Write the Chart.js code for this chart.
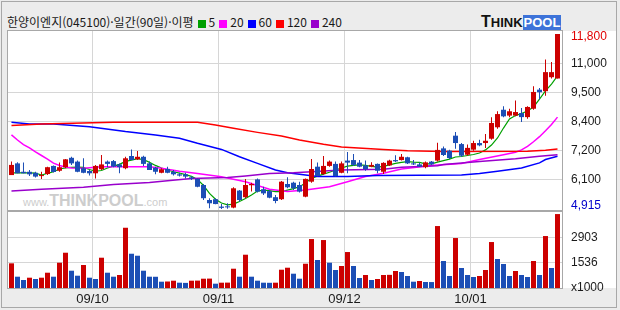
<!DOCTYPE html>
<html lang="ko">
<head>
<meta charset="utf-8">
<title>한양이엔지 일간 차트</title>
<script src="https://cdn.jsdelivr.net/npm/chart.js@4.4.1/dist/chart.umd.min.js"></script>
<style>
  html, body { margin: 0; padding: 0; background: #ececec; }
  #wrap { position: relative; width: 620px; height: 310px; background: #ececec; overflow: hidden; }
  #frame { position: absolute; left: 1px; top: 1px; width: 614px; height: 305px; border: 1px solid #a8a8a8; }
  #sheet { position: absolute; left: 8px; top: 31px; width: 608px; height: 257px; background: #fff; }
  .box { position: absolute; border: 1px solid #a8a8a8; z-index: 3; }
  #priceBox { left: 7px; top: 30px; width: 554px; height: 179px; }
  #volBox { left: 7px; top: 211px; width: 554px; height: 76px; }
  canvas { position: absolute; left: 0; top: 0; z-index: 2; }
  #mark { position: absolute; left: 23px; top: 192px; z-index: 1; white-space: nowrap;
          font-family: "Liberation Sans", sans-serif; color: #cdcdcd; line-height: 18px; }
  #mark .w { font-size: 11px; }
  #mark .t { font-size: 16px; font-weight: bold; }
  #title { position: absolute; left: 7px; top: 13px; height: 18px; line-height: 18px; white-space: nowrap;
           font: 12px "Noto Sans CJK KR", sans-serif; color: #1a1a1a; }
  #title .sq { display: inline-block; width: 8px; height: 8px; margin: 0 3px 0 4px; vertical-align: -1px; }
  #logo { position: absolute; left: 481px; top: 14px; height: 15px; line-height: 15px; white-space: nowrap;
          font-family: "Liberation Sans", sans-serif; font-weight: bold; }
  #logo .think { color: #111; font-size: 13px; }
  #logo .think b { font-size: 16px; }
  #logo .pool { color: #fff; background: #3d73d9; font-size: 13px; padding: 0 1px; }
</style>
</head>
<body>
<div id="wrap">
  <div id="frame"></div>
  <div id="sheet"></div>
  <div id="mark"><span class="w">www.</span><span class="t">THINKPOOL</span><span class="w">.com</span></div>
  <canvas id="priceChart" width="620" height="228"></canvas>
  <canvas id="volChart" width="620" height="310"></canvas>
  <div class="box" id="priceBox"></div>
  <div class="box" id="volBox"></div>
  <div id="title">한양이엔지(045100)·일간(90일)·이평<i class="sq" style="background:#00a000"></i>5<i class="sq" style="background:#ff00ff"></i>20<i class="sq" style="background:#0000ff"></i>60<i class="sq" style="background:#ff0000"></i>120<i class="sq" style="background:#9900cc"></i>240</div>
  <div id="logo"><span class="think"><b>T</b>HINK</span><span class="pool">POOL</span></div>
</div>
<script>
/* ── data (daily candles, index 0 = oldest) ── */
const monthStarts = [14, 35, 56, 77];
const monthLabels = ["09/10", "09/11", "09/12", "10/01"];

const opens = [6250,6710,6380,6380,6340,6210,6290,6610,6420,6560,
  6930,6780,6520,6410,6320,6480,6780,6800,6670,6520,
  7000,6870,6970,6710,6540,6340,6490,6380,6280,6280,
  6160,6100,5860,5270,5300,5010,5010,4970,5640,5380,
  5850,6080,5690,5620,5380,5300,5900,5950,5860,5400,
  5990,6580,6290,6610,6690,6340,6820,6840,6740,6630,
  6580,6690,6380,6630,6840,6840,6950,6710,6670,6560,
  6780,6820,7300,7210,7800,7470,7050,7250,7510,7510,
  7680,8130,8820,8590,8590,8690,8530,8860,9610,9550,
  10100,10050];
const highs = [6780,6750,6740,6450,6380,6380,6580,6630,6740,6880,
  6970,6820,6910,6450,6650,7040,6820,6840,6710,6970,
  7260,7200,7010,6780,6580,6520,6580,6450,6340,6340,
  6210,6120,5900,5340,5340,5110,5140,5770,5660,6100,
  5950,6120,5790,5660,5470,6020,6160,5990,5990,6120,
  6880,6740,7000,6820,6780,6780,7160,7080,6840,6820,
  6750,6710,6750,6850,7030,7080,6970,6840,6740,6780,
  6800,7520,7370,7250,7940,7510,7450,7600,7640,7870,
  8520,8760,8960,8860,9180,8890,8960,9740,9680,10800,
  10700,11800];
const lows = [6250,6320,6320,6210,6150,6100,6250,6350,6380,6520,
  6650,6360,6320,6230,6120,6450,6560,6560,6320,6480,
  6840,6840,6610,6450,6280,6320,6320,6230,6190,6120,
  6060,5770,5270,4940,5100,4915,4930,4940,5200,5340,
  5600,5560,5470,5340,5140,5270,5730,5660,5560,5380,
  5950,6190,6260,6580,6190,6320,6320,6610,6560,6420,
  6560,6320,6290,6610,6760,6820,6690,6650,6570,6520,
  6650,6780,7000,6880,7290,6960,7010,7210,7380,7320,
  7640,8070,8520,8520,8560,8340,8470,8820,9220,9370,
  10050,10050];
const closes = [6650,6320,6320,6280,6190,6250,6560,6370,6560,6870,
  6710,6380,6340,6320,6610,6670,6690,6580,6560,6910,
  6840,6970,6690,6450,6380,6480,6340,6280,6230,6190,
  6110,5790,5340,5140,5110,4960,4980,5730,5270,5860,
  5900,5600,5530,5360,5230,5990,5770,5730,5600,6100,
  6490,6210,6610,6780,6210,6710,6740,6650,6580,6480,
  6650,6420,6730,6820,6790,6970,6710,6670,6580,6750,
  6670,7240,7040,6920,7510,7010,7320,7510,7420,7600,
  8300,8650,8560,8760,8730,8530,8930,9520,9510,10300,
  10300,11800];
// 거래량 (천주)
const volumes = [1481,749,568,694,623,694,967,749,1514,2061,
  1077,803,1388,694,623,1788,967,749,842,3428,
  2006,1897,1077,749,745,475,486,530,421,410,
  530,535,639,645,366,421,425,1186,749,1952,
  749,530,421,415,421,1131,1241,913,639,1459,
  2810,1662,2755,1514,1115,1334,2099,1334,678,842,
  568,623,842,850,1060,1006,787,475,513,459,
  455,3521,1607,787,2865,1224,842,732,787,1115,
  2646,1716,1443,787,1060,842,732,1607,842,2974,
  1224,4177];

// moving averages
const ma5 = [6340,6340,6340,6335,6330,6250,6320,6380,6490,6530,
  6550,6560,6550,6470,6400,6430,6530,6600,6670,6790,
  6840,6900,6860,6750,6630,6530,6450,6380,6330,6270,
  6200,6080,5840,5530,5300,5150,5080,5110,5210,5330,
  5470,5620,5660,5640,5600,5600,5660,5720,5790,5940,
  6120,6210,6290,6360,6450,6530,6600,6630,6650,6630,
  6590,6560,6590,6650,6710,6750,6780,6760,6750,6690,
  6690,6760,6820,6880,6960,6980,7020,7060,7120,7240,
  7430,7710,8100,8460,8590,8670,8770,8930,9240,9560,
  9830,10150];
const ma20 = [[0,7830],[1,7630],[2,7450],[3,7320],[4,7160],[5,7020],[6,6880],[7,6720],[8,6630],
  [9,6570],[10,6530],[12,6520],[15,6580],[23,6580],[25,6520],[28,6400],[31,6310],[35,6180],
  [39,5990],[43,5690],[46,5600],[49,5660],[53,5790],[56,5990],[59,6190],[62,6320],[65,6490],
  [70,6630],[75,6710],[78,6860],[82,7050],[84,7150],[85,7240],[86,7380],[87,7560],[88,7760],
  [89,7990],[90,8240],[91,8530]];
const ma60 = [[0,8330],[3,8260],[7,8260],[13,8150],[19,7960],[24,7830],[28,7700],[31,7500],
  [35,7260],[38,6970],[41,6710],[44,6450],[46,6340],[49,6250],[51,6190],[56,6190],[61,6230],
  [75,6250],[78,6310],[81,6400],[85,6530],[88,6730],[89,6860],[91,6990]];
const ma120 = [[0,8200],[5,8260],[17,8330],[31,8330],[34,8220],[37,8090],[41,7930],[45,7790],
  [48,7630],[52,7460],[55,7350],[62,7260],[66,7210],[72,7180],[86,7190],[89,7230],[91,7280]];
const ma240 = [[0,5620],[5,5690],[12,5770],[17,5880],[23,5960],[26,6030],[30,6120],[36,6150],
  [39,6210],[43,6310],[47,6340],[50,6380],[55,6450],[62,6480],[65,6560],[71,6620],[72,6670],
  [78,6780],[84,6890],[88,6990],[91,7050]];

const priceGrid = [6060, 7200, 8355, 9495, 10640];
const volGrid = [1536, 2903];

/* ── look ── */
const UP = "#cc0000";
const DOWN = "#1c4eb5";
const GRID = "#d6d6d6";
const AXIS_FONT = { family: "'Liberation Sans', Arial, sans-serif", size: 12 };
const X_MIN = -0.58, X_MAX = 91.75;
const PRICE_MIN = 4876, PRICE_MAX = 11918;
const VOL_MIN = 130, VOL_MAX = 4290;

Chart.defaults.font.family = AXIS_FONT.family;
Chart.defaults.font.size = 12;
Chart.defaults.color = "#1a1a1a";

const candleColors = closes.map((c, i) => (c >= opens[i] ? UP : DOWN));
const volColors = volumes.map((v, i) => (i === 0 || v >= volumes[i - 1] ? UP : DOWN));

function monthAxis(showLabels) {
  return {
    type: "linear",
    min: X_MIN,
    max: X_MAX,
    offset: false,
    afterBuildTicks: (s) => { s.ticks = monthStarts.map((i) => ({ value: i - 0.5 })); },
    afterFit: (s) => { s.height = showLabels ? 22 : 0; },
    grid: { color: GRID, drawTicks: false, offset: false },
    border: { display: false },
    ticks: {
      display: showLabels,
      autoSkip: false,
      maxRotation: 0,
      padding: 4,
      font: { size: 13 },
      callback: (v, i) => monthLabels[i],
    },
  };
}

function maLine(label, color, points, width) {
  return {
    type: "line",
    label,
    data: points,
    borderColor: color,
    borderWidth: width,
    pointRadius: 0,
    tension: 0,
    order: 2,
  };
}

/* min / max price marks on the right axis */
const extremeLabels = {
  id: "extremeLabels",
  afterDraw(chart) {
    const { ctx, chartArea } = chart;
    const y = chart.scales.y;
    const hi = Math.max(...highs);
    const lo = Math.min(...lows);
    ctx.save();
    ctx.font = "12px 'Liberation Sans', Arial, sans-serif";
    ctx.textAlign = "left";
    ctx.textBaseline = "middle";
    ctx.fillStyle = "#e00000";
    ctx.fillText(hi.toLocaleString("en-US"), chartArea.right + 9,
      Math.max(y.getPixelForValue(hi), chartArea.top + 6));
    ctx.fillStyle = "#0000cc";
    ctx.fillText(lo.toLocaleString("en-US"), chartArea.right + 9,
      Math.min(y.getPixelForValue(lo), chartArea.bottom - 4));
    ctx.restore();
  },
};

const common = {
  responsive: false,
  animation: false,
  devicePixelRatio: 1,
  events: [],
  plugins: { legend: { display: false }, tooltip: { enabled: false } },
};

/* price panel (canvas runs past the panel so the axis label padding fits) */
new Chart(document.getElementById("priceChart"), {
  type: "bar",
  data: {
    datasets: [
      maLine("240", "#9900cc", ma240.map(([x, y]) => ({ x, y })), 1.5),
      maLine("120", "#ff0000", ma120.map(([x, y]) => ({ x, y })), 1.5),
      maLine("60", "#0000ff", ma60.map(([x, y]) => ({ x, y })), 1.5),
      maLine("20", "#ff00ff", ma20.map(([x, y]) => ({ x, y })), 1.5),
      maLine("5", "#00a000", ma5.map((y, x) => ({ x, y })), 1.2),
      {
        label: "wick",
        data: highs.map((h, i) => ({ x: i, y: [lows[i], h] })),
        backgroundColor: candleColors,
        barThickness: 1,
        grouped: false,
        inflateAmount: 0,
        order: 1,
      },
      {
        label: "body",
        data: opens.map((o, i) => ({ x: i, y: [o, closes[i]] })),
        backgroundColor: candleColors,
        barThickness: 5,
        minBarLength: 1,
        grouped: false,
        inflateAmount: 0,
        order: 0,
      },
    ],
  },
  options: {
    ...common,
    layout: { padding: { left: 8, top: 31, right: 0, bottom: 18 } },
    scales: {
      x: monthAxis(false),
      y: {
        position: "right",
        min: PRICE_MIN,
        max: PRICE_MAX,
        afterBuildTicks: (s) => { s.ticks = priceGrid.map((v) => ({ value: v })); },
        afterFit: (s) => { s.width = 58; },
        grid: { color: GRID, drawTicks: false },
        border: { display: false },
        ticks: {
          padding: 9,
          callback: (v) => Number(v.toPrecision(2)).toLocaleString("en-US"),
        },
      },
    },
  },
  plugins: [extremeLabels],
});

/* volume panel */
new Chart(document.getElementById("volChart"), {
  type: "bar",
  data: {
    datasets: [
      {
        label: "volume",
        data: volumes.map((v, i) => ({ x: i, y: v })),
        backgroundColor: volColors,
        barThickness: 5,
        inflateAmount: 0,
      },
    ],
  },
  options: {
    ...common,
    layout: { padding: { left: 8, top: 212, right: 0, bottom: 0 } },
    scales: {
      x: monthAxis(true),
      y: {
        position: "right",
        min: VOL_MIN,
        max: VOL_MAX,
        afterBuildTicks: (s) => { s.ticks = [VOL_MIN, ...volGrid].map((v) => ({ value: v })); },
        afterFit: (s) => { s.width = 58; },
        grid: {
          color: (c) => (c.tick && c.tick.value === VOL_MIN ? "rgba(0,0,0,0)" : GRID),
          drawTicks: false,
        },
        border: { display: false },
        ticks: {
          padding: 9,
          callback: (v) => (v === VOL_MIN ? "x1000" : String(v)),
        },
      },
    },
  },
});
</script>
</body>
</html>
